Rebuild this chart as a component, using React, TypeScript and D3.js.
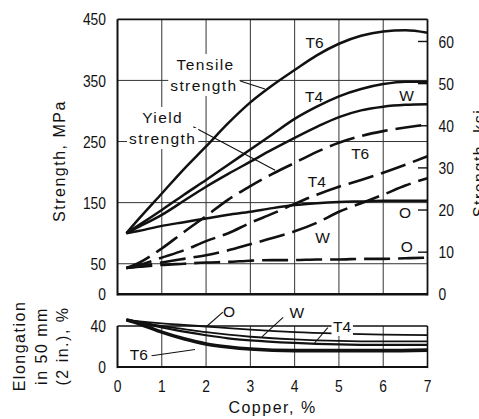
import { useEffect, useRef } from "react";
import * as d3 from "d3";

const WIDTH = 479;
const HEIGHT = 419;

// Copper content (%) at which strength values are tabulated
const copperPct = [0.2, 0.5, 1, 1.5, 2, 2.5, 3, 3.5, 4, 4.5, 5, 5.5, 6, 6.5, 7];

// Tensile strength, MPa
const tensileT6 = [100, 125, 165, 205, 242, 280, 314, 342, 367, 391, 410, 423, 430, 432, 428];
const tensileT4 = [100, 114, 138, 163, 187, 212, 237, 262, 287, 307, 324, 336, 344, 348, 348];
const tensileW = [100, 111, 130, 153, 176, 197, 217, 237, 256, 274, 290, 301, 307, 310, 311];
const tensileO = [100, 104, 112, 118, 124, 130, 135, 141, 146, 149, 151, 152, 153, 153, 153];

// Yield strength, MPa
const yieldT6 = [43, 52, 75, 102, 128, 155, 177, 197, 215, 233, 248, 259, 267, 273, 278];
const yieldT4 = [43, 48, 60, 72, 87, 100, 117, 132, 148, 163, 176, 187, 199, 212, 226];
const yieldW = [43, 46, 52, 58, 64, 72, 82, 92, 103, 117, 135, 149, 163, 178, 190];
const yieldO = [43, 45, 48, 50, 52, 53, 55, 56, 56, 57, 57, 58, 58, 59, 60];

// Elongation in 50 mm, %
const elongCopper = [0.2, 0.5, 1, 1.5, 2, 2.5, 3, 4, 5, 6, 7];
const elongO = [46, 44.5, 42.5, 41, 39.5, 38, 36.5, 34, 32.5, 31.5, 31];
const elongW = [46, 44, 40, 37, 34, 31.5, 29.5, 27, 25.5, 25, 25];
const elongT4 = [46, 43.5, 38.5, 34.5, 31, 28, 26, 23.5, 22, 21.5, 21.5];
const elongT6 = [46, 42, 34, 27.5, 22.5, 19.5, 17.5, 16, 16, 16, 16.5];

// Axis ticks
const copperTicks = [0, 1, 2, 3, 4, 5, 6, 7];
const mpaTicks = [0, 50, 150, 250, 350, 450];
const ksiTicks = [0, 10, 20, 30, 40, 50, 60];
const elongTicks = [0, 40];
const MPA_PER_KSI = 6.895;

const WORD_FONT = "'Liberation Sans', Arial, Helvetica, sans-serif";
const NUM_FONT = "'Liberation Sans', Arial, sans-serif";
const DIGIT_WIDTH = 7.7; // condensed figures

export default function App() {
  const ref = useRef<SVGSVGElement | null>(null);

  useEffect(() => {
    const svg = d3.select(ref.current);
    svg.selectAll("*").remove();

    const x = d3.scaleLinear().domain([0, 7]).range([117.5, 427.5]);
    const yS = d3.scaleLinear().domain([0, 450]).range([294.3, 19.3]);
    const yE = d3.scaleLinear().domain([0, 40]).range([367, 326]);

    const ink = "#111";

    // ---------- grid ----------
    const grid = svg.append("g").attr("stroke", "#333").attr("stroke-width", 1);
    copperTicks.slice(1, -1).forEach((c) => {
      grid.append("line").attr("x1", x(c)).attr("x2", x(c)).attr("y1", yS(0)).attr("y2", yS(450));
      grid.append("line").attr("x1", x(c)).attr("x2", x(c)).attr("y1", yE(0)).attr("y2", yE(40));
    });
    mpaTicks.slice(1, -1).forEach((v) => {
      grid.append("line").attr("x1", x(0)).attr("x2", x(7)).attr("y1", yS(v)).attr("y2", yS(v));
    });

    // ---------- frames ----------
    const frame = svg.append("g").attr("stroke", ink).attr("fill", "none");
    const edge = (x1: number, y1: number, x2: number, y2: number, w: number) =>
      frame.append("line").attr("x1", x1).attr("y1", y1).attr("x2", x2).attr("y2", y2).attr("stroke-width", w);
    edge(x(0), yS(450), x(7), yS(450), 1.8);
    edge(x(0), yS(0), x(7), yS(0), 2.4);
    edge(x(0), yS(450), x(0), yS(0) + 1.2, 2);
    edge(x(7), yS(450), x(7), yS(0) + 1.2, 1.8);
    edge(x(0), yE(40), x(7), yE(40), 1.6);
    edge(x(0), yE(0), x(7), yE(0), 2.2);
    edge(x(0), yE(40), x(0), yE(0) + 1.1, 2);
    edge(x(7), yE(40), x(7), yE(0) + 1.1, 1.6);

    // ksi ticks, pointing inward from the right edge
    ksiTicks.forEach((k) => {
      edge(x(7) - 9.5, yS(k * MPA_PER_KSI), x(7), yS(k * MPA_PER_KSI), 1.4);
    });

    // ---------- strength curves ----------
    const strengthLine = d3
      .line<[number, number]>()
      .x((d) => x(d[0]))
      .y((d) => yS(d[1]))
      .curve(d3.curveMonotoneX);
    const pair = (vals: number[], xs: number[]) => xs.map((c, i) => [c, vals[i]] as [number, number]);

    const curves = svg.append("g").attr("fill", "none").attr("stroke", ink).attr("stroke-linecap", "butt");
    [tensileT6, tensileT4, tensileW, tensileO].forEach((vals) => {
      curves.append("path").attr("d", strengthLine(pair(vals, copperPct))).attr("stroke-width", 2.5);
    });
    [yieldT6, yieldT4, yieldW, yieldO].forEach((vals) => {
      curves
        .append("path")
        .attr("d", strengthLine(pair(vals, copperPct)))
        .attr("stroke-width", 2.6)
        .attr("stroke-dasharray", "26 8");
    });

    // ---------- elongation curves ----------
    const elongLine = d3
      .line<[number, number]>()
      .x((d) => x(d[0]))
      .y((d) => yE(d[1]))
      .curve(d3.curveMonotoneX);
    const elongSeries: [number[], number][] = [
      [elongO, 1.8],
      [elongW, 1.8],
      [elongT4, 2.2],
      [elongT6, 3.6],
    ];
    elongSeries.forEach(([vals, w]) => {
      curves.append("path").attr("d", elongLine(pair(vals, elongCopper))).attr("stroke-width", w);
    });

    // ---------- leader lines ----------
    const leaders = svg.append("g").attr("stroke", ink).attr("stroke-width", 1.1);
    const leaderS = (x1: number, v1: number, x2: number, v2: number) =>
      leaders.append("line").attr("x1", x(x1)).attr("y1", yS(v1)).attr("x2", x(x2)).attr("y2", yS(v2));
    const leaderE = (x1: number, v1: number, x2: number, v2: number) =>
      leaders.append("line").attr("x1", x(x1)).attr("y1", yE(v1)).attr("x2", x(x2)).attr("y2", yE(v2));
    leaderS(2.77, 349, 3.33, 336);
    leaderS(1.71, 274, 3.56, 203);
    leaderE(2.38, 53.5, 2.01, 39.5);
    leaderE(3.74, 48.5, 3.26, 29.3);
    leaderE(4.75, 38.5, 4.45, 23.4);
    leaderE(0.77, 11, 1.75, 17);

    // ---------- labels ----------
    const labels = svg.append("g").attr("fill", ink);
    const word = (
      txt: string,
      px: number,
      py: number,
      opts: { size?: number; spacing?: number; anchor?: string; mask?: boolean; pad?: number } = {}
    ) => {
      const t = labels
        .append("text")
        .attr("x", px)
        .attr("y", py)
        .attr("font-family", WORD_FONT)
        .attr("font-size", opts.size ?? 15.5)
        .attr("letter-spacing", opts.spacing ?? 0)
        .attr("text-anchor", opts.anchor ?? "middle")
        .text(txt);
      if (opts.mask) {
        const b = (t.node() as SVGTextElement).getBBox();
        const p = opts.pad ?? 2;
        labels
          .insert("rect", () => t.node())
          .attr("x", b.x - p)
          .attr("y", b.y - p)
          .attr("width", b.width + 2 * p)
          .attr("height", b.height + 2 * p)
          .attr("fill", "#fff");
      }
      return t;
    };

    // group labels
    word("Tensile", x(1.99), 70, { spacing: 1.4, mask: true });
    word("strength", x(1.95), 91, { spacing: 1.4, mask: true });
    word("Yield", x(1.02), 123, { spacing: 1.4, mask: true });
    word("strength", x(1.02), 144, { spacing: 1.4, mask: true });

    // temper labels, strength
    const temperS = (txt: string, c: number, v: number) =>
      word(txt, x(c), yS(v), { size: 15.5 }).attr("dy", "0.36em");
    temperS("T6", 4.45, 412);
    temperS("T4", 4.44, 324);
    temperS("W", 6.53, 326);
    temperS("T6", 5.48, 230);
    temperS("T4", 4.5, 185);
    temperS("W", 4.63, 93);
    temperS("O", 6.49, 134);
    temperS("O", 6.53, 79);

    // temper labels, elongation
    const temperE = (txt: string, c: number, v: number, mask = false) =>
      word(txt, x(c), yE(v) + 5.5, { size: 15.5, mask, pad: 1.5 });
    temperE("O", 2.52, 54.5);
    temperE("W", 4.05, 53.5);
    temperE("T4", 5.07, 40, true);
    temperE("T6", 0.48, 12.5);

    // ---------- tick labels ----------
    const nums = svg.append("g").attr("fill", ink).attr("font-family", NUM_FONT).attr("font-size", 17);
    const num = (val: number, px: number, py: number, anchor: string) =>
      nums
        .append("text")
        .attr("x", px)
        .attr("y", py)
        .attr("dy", "0.36em")
        .attr("text-anchor", anchor)
        .attr("textLength", String(val).length * DIGIT_WIDTH)
        .attr("lengthAdjust", "spacingAndGlyphs")
        .text(val);
    mpaTicks.forEach((v) => num(v, 106, yS(v), "end"));
    ksiTicks.forEach((k) => num(k, 438.5, yS(k * MPA_PER_KSI), "start"));
    elongTicks.forEach((v) => num(v, 106, yE(v), "end"));
    copperTicks.forEach((c) => num(c, x(c), 386, "middle"));

    // ---------- axis titles ----------
    const titles = svg
      .append("g")
      .attr("fill", ink)
      .attr("font-family", WORD_FONT)
      .attr("font-size", 16)
      .attr("letter-spacing", 1.5);
    titles.append("text").attr("x", x(3.5)).attr("y", 413).attr("text-anchor", "middle").text("Copper, %");
    titles
      .append("text")
      .attr("transform", "translate(65,161) rotate(-90)")
      .attr("text-anchor", "middle")
      .text("Strength, MPa");
    titles
      .append("text")
      .attr("transform", "translate(485,163) rotate(-90)")
      .attr("text-anchor", "middle")
      .text("Strength, ksi");
    ["Elongation", "in 50 mm", "(2 in.), %"].forEach((line, i) => {
      titles
        .append("text")
        .attr("transform", `translate(${25 + i * 21.5},346) rotate(-90)`)
        .attr("text-anchor", "middle")
        .text(line);
    });
  }, []);

  return (
    <svg
      ref={ref}
      width={WIDTH}
      height={HEIGHT}
      style={{ position: "absolute", left: 0, top: 0, background: "#fff" }}
    />
  );
}
